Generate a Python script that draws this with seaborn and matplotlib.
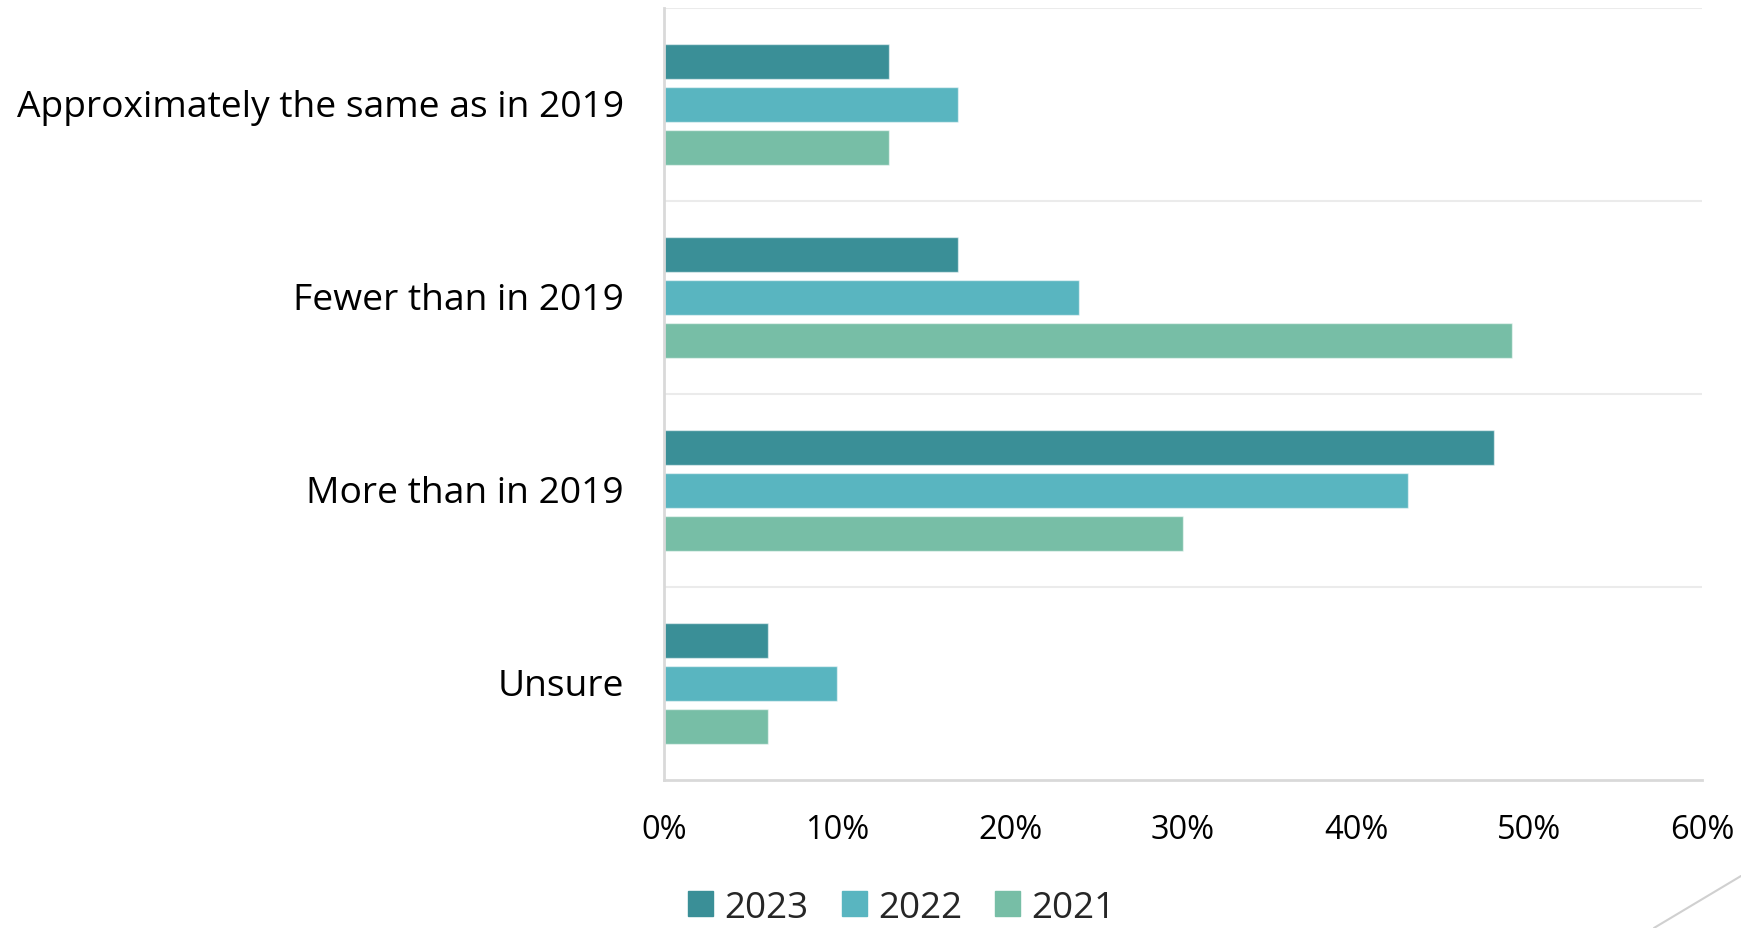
import matplotlib
matplotlib.use("Agg")
import matplotlib.pyplot as plt
from matplotlib.lines import Line2D
from matplotlib.ticker import PercentFormatter
from matplotlib.transforms import ScaledTranslation
import pandas as pd
import seaborn as sns

categories = [
    "Approximately the same as in 2019",
    "Fewer than in 2019",
    "More than in 2019",
    "Unsure",
]
years = ["2023", "2022", "2021"]
values_2023 = [13, 17, 48, 6]
values_2022 = [17, 24, 43, 10]
values_2021 = [13, 49, 30, 6]
x_ticks = [0, 10, 20, 30, 40, 50, 60]

colors = {"2023": "#3A8F97", "2022": "#59B5C0", "2021": "#77BEA6"}

rows = []
for year, vals in zip(years, [values_2023, values_2022, values_2021]):
    for cat, v in zip(categories, vals):
        rows.append({"Category": cat, "Year": year, "Share": v})
df = pd.DataFrame(rows)

sns.set_theme(style="white")
plt.rcParams["font.family"] = ["Open Sans", "DejaVu Sans"]

fig = plt.figure(figsize=(17.41, 9.29), dpi=100)
ax = fig.add_axes([0.3814, 0.1593, 0.5962, 0.8310])

sns.barplot(
    data=df, y="Category", x="Share", hue="Year",
    order=categories, hue_order=years, palette=colors,
    orient="h", width=0.672, gap=0.2, ax=ax,
    edgecolor=(1, 1, 1, 0.55), linewidth=1.0, saturation=1,
)

ax.set_xlim(0, 60)
ax.set_ylim(3.5, -0.5)
ax.set_xticks(x_ticks)
ax.xaxis.set_major_formatter(PercentFormatter(decimals=0))
ax.set_xlabel("")
ax.set_ylabel("")

# faint separators between the category bands
ax.set_yticks([-0.5, 0.5, 1.5, 2.5], minor=True)
ax.grid(which="minor", axis="y", color="#EBEBEB", linewidth=1.5)
ax.grid(which="major", visible=False)
ax.tick_params(axis="y", which="both", length=0, pad=29, labelsize=26.8, labelcolor="black")
ax.tick_params(axis="x", length=0, pad=24, labelsize=23.5, labelcolor="black")

# nudge category labels up slightly so they sit centred on their bands
shift = ScaledTranslation(0, 2.5 / 100, fig.dpi_scale_trans)
for lbl in ax.get_yticklabels():
    lbl.set_transform(lbl.get_transform() + shift)

for side in ["top", "right"]:
    ax.spines[side].set_visible(False)
for side in ["left", "bottom"]:
    ax.spines[side].set_color("#D9D9D9")
    ax.spines[side].set_linewidth(2)

handles = [plt.Rectangle((0, 0), 1, 1, color=colors[y]) for y in years]
ax.get_legend().remove()
fig.legend(
    handles, years, loc="center", bbox_to_anchor=(0.518, 0.022),
    ncol=3, frameon=False, fontsize=26.5, handlelength=0.68, handleheight=0.68,
    handletextpad=0.3, columnspacing=0.9,
)

# thin decorative stroke in the lower right corner
fig.add_artist(Line2D([0.950, 1.0], [0.0, 0.056], transform=fig.transFigure,
                      color="#D0D0D0", linewidth=1.5))

fig.savefig("out.png", dpi=100)
